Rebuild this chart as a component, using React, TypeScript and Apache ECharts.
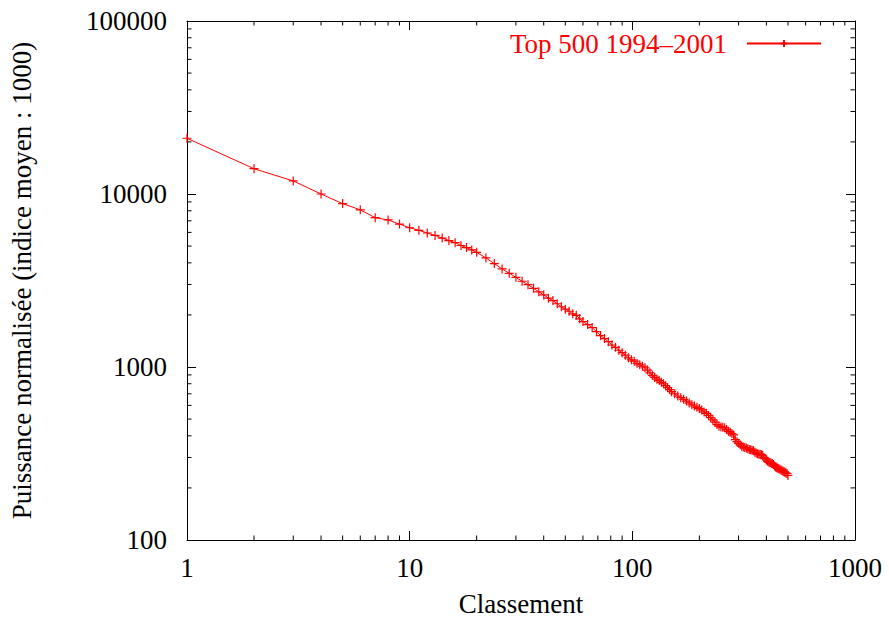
import React, { useEffect, useRef } from "react";
import * as echarts from "echarts";

const seriesName = "Top 500 1994–2001";
const xAxisName = "Classement";
const yAxisName = "Puissance normalisée (indice moyen : 1000)";

const ranks = [
  1, 2, 3, 4, 5, 6, 7, 8, 9, 10, 11, 12, 13, 14, 15, 16, 17, 18, 19, 20,
  22, 24, 26, 28, 30, 32, 34, 36, 38, 40, 42, 44, 46, 48, 50, 52, 54, 56, 58, 60,
  63, 66, 69, 72, 75, 78, 81, 84, 87, 90, 93, 96, 99, 102, 105, 108, 111, 114, 117, 120,
  123, 126, 129, 132, 135, 138, 141, 144, 147, 150,
  155, 160, 165, 170, 175, 180, 185, 190, 195, 200, 205, 210, 215, 220, 225, 230, 235, 240, 245, 250,
  255, 260, 265, 270, 275, 280, 285, 290, 295, 300, 305, 310, 315, 320, 325, 330, 335, 340, 345, 350,
  355, 360, 365, 370, 375, 380, 385, 390, 395, 400, 405, 410, 415, 420, 425, 430, 435, 440, 445, 450,
  455, 460, 465, 470, 475, 480, 485, 490, 495, 500,
];

const power = [
  21000, 14000, 11900, 10000, 8800, 8100, 7300, 7080, 6700, 6380, 6170, 5950, 5760, 5560, 5380, 5230, 5040, 4900, 4750, 4600,
  4270, 3960, 3690, 3480, 3300, 3130, 2990, 2850, 2720, 2610, 2500, 2420, 2320, 2230, 2160, 2100, 2030, 1990, 1900, 1830,
  1760, 1690, 1600, 1520, 1460, 1400, 1340, 1300, 1250, 1210, 1170, 1130, 1100, 1080, 1050, 1030, 1010, 990, 960, 925,
  895, 870, 850, 835, 815, 800, 780, 760, 740, 720,
  700, 680, 665, 650, 635, 620, 605, 595, 585, 575, 565, 550, 540, 525, 510, 495, 480, 465, 455, 450,
  448, 445, 435, 425, 420, 412, 405, 380, 370, 362, 355, 348, 345, 342, 340, 337, 334, 332, 330, 328,
  322, 318, 315, 313, 312, 311, 309, 300, 295, 290, 285, 282, 280, 279, 277, 273, 268, 264, 262, 260,
  258, 256, 254, 252, 250, 248, 246, 244, 242, 236,
];

const xMinorTicks = [2, 3, 4, 5, 6, 7, 8, 9, 20, 30, 40, 50, 60, 70, 80, 90, 200, 300, 400, 500, 600, 700, 800, 900];
const yMinorTicks = [
  200, 300, 400, 500, 600, 700, 800, 900,
  2000, 3000, 4000, 5000, 6000, 7000, 8000, 9000,
  20000, 30000, 40000, 50000, 60000, 70000, 80000, 90000,
];

const X_MIN = 1;
const X_MAX = 1000;
const Y_MIN = 100;
const Y_MAX = 100000;

const FONT = "'Liberation Serif', 'Times New Roman', serif";
const FS = 27;
const RED = "#ff0000";
const PLUS = "path://M0,5 L10,5 M5,0 L5,10";

export default function App() {
  const ref = useRef<HTMLDivElement>(null);

  useEffect(() => {
    document.body.style.margin = "0";
    if (!ref.current) return;
    const chart = echarts.init(ref.current, null, { renderer: "svg" });

    const tickStyle = { stroke: "#000", lineWidth: 1 };
    const minorLen = 4.5;

    const axisCommon = {
      axisLine: { show: true, onZero: false, lineStyle: { color: "#000", width: 1 } },
      axisTick: { show: true, inside: true, length: 9, lineStyle: { color: "#000", width: 1 } },
      splitLine: { show: false },
    };

    const fmt = (v: number) => String(Math.round(v));

    chart.setOption({
      animation: false,
      backgroundColor: "#fff",
      textStyle: { fontFamily: FONT },
      grid: { left: 187, right: 34, top: 21, bottom: 83, containLabel: false },
      legend: {
        data: [seriesName],
        right: 67,
        top: 30,
        padding: 0,
        align: "right",
        itemWidth: 74,
        itemHeight: 9,
        textStyle: { color: RED, fontSize: FS, fontFamily: FONT, padding: [0, 15, 0, 0] },
      },
      xAxis: [
        {
          type: "log",
          logBase: 10,
          min: X_MIN,
          max: X_MAX,
          name: xAxisName,
          nameLocation: "middle",
          nameGap: 50,
          nameTextStyle: { color: "#000", fontSize: FS, fontFamily: FONT },
          axisLabel: { color: "#000", fontSize: FS, fontFamily: FONT, margin: 14, formatter: fmt },
          ...axisCommon,
        },
        {
          type: "log",
          logBase: 10,
          min: X_MIN,
          max: X_MAX,
          position: "top",
          axisLabel: { show: false },
          ...axisCommon,
        },
      ],
      yAxis: [
        {
          type: "log",
          logBase: 10,
          min: Y_MIN,
          max: Y_MAX,
          name: yAxisName,
          nameLocation: "middle",
          nameGap: 152,
          nameRotate: 90,
          nameTextStyle: { color: "#000", fontSize: FS, fontFamily: FONT },
          axisLabel: { color: "#000", fontSize: FS, fontFamily: FONT, margin: 20, formatter: fmt },
          ...axisCommon,
        },
        {
          type: "log",
          logBase: 10,
          min: Y_MIN,
          max: Y_MAX,
          position: "right",
          axisLabel: { show: false },
          ...axisCommon,
        },
      ],
      series: [
        {
          name: seriesName,
          type: "line",
          data: ranks.map((r, i) => [r, power[i]]),
          symbol: PLUS,
          symbolSize: 9,
          showSymbol: true,
          showAllSymbol: true,
          color: RED,
          lineStyle: { color: RED, width: 1 },
          itemStyle: { color: RED, borderColor: RED, borderWidth: 1.2 },
          z: 5,
        },
        {
          name: "xMinor",
          type: "custom",
          silent: true,
          data: xMinorTicks.map((v) => [v, Y_MIN]),
          encode: { x: 0, y: 1 },
          renderItem: (_p: any, api: any) => {
            const v = api.value(0);
            const b = api.coord([v, Y_MIN]);
            const t = api.coord([v, Y_MAX]);
            return {
              type: "group",
              children: [
                { type: "line", shape: { x1: b[0], y1: b[1], x2: b[0], y2: b[1] - minorLen }, style: tickStyle },
                { type: "line", shape: { x1: t[0], y1: t[1], x2: t[0], y2: t[1] + minorLen }, style: tickStyle },
              ],
            };
          },
        },
        {
          name: "yMinor",
          type: "custom",
          silent: true,
          data: yMinorTicks.map((v) => [X_MIN, v]),
          encode: { x: 0, y: 1 },
          renderItem: (_p: any, api: any) => {
            const v = api.value(1);
            const l = api.coord([X_MIN, v]);
            const r = api.coord([X_MAX, v]);
            return {
              type: "group",
              children: [
                { type: "line", shape: { x1: l[0], y1: l[1], x2: l[0] + minorLen, y2: l[1] }, style: tickStyle },
                { type: "line", shape: { x1: r[0], y1: r[1], x2: r[0] - minorLen, y2: r[1] }, style: tickStyle },
              ],
            };
          },
        },
      ],
    });

    return () => chart.dispose();
  }, []);

  return <div ref={ref} style={{ width: 889, height: 623 }} />;
}
